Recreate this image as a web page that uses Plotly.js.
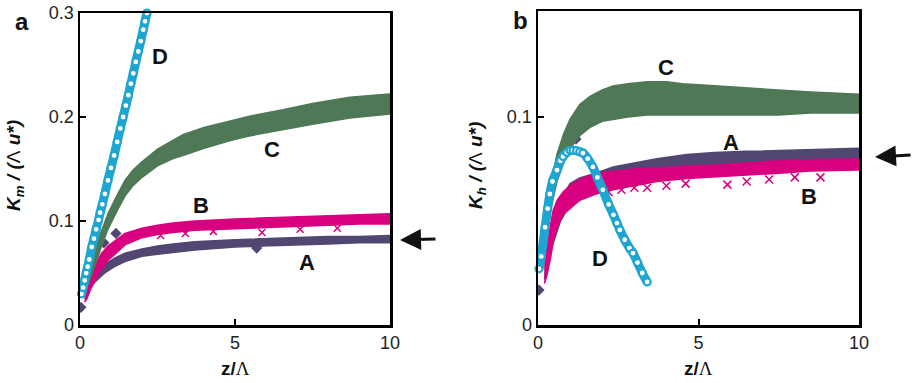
<!DOCTYPE html>
<html>
<head>
<meta charset="utf-8">
<script src="https://cdn.plot.ly/plotly-3.0.1.min.js"></script>
<style>html,body{margin:0;padding:0;background:#fff;}#chart{width:913px;height:383px;}</style>
</head>
<body>
<div id="chart"></div>
<script>
// ---------- Panel a (Km) ----------
var aCx = [0.1,0.2,0.35,0.5,0.7,0.9,1.2,1.45,1.71,2.0,2.5,3.0,3.32,4.0,4.94,5.5,6.55,7.5,8.7,10];
var aCup = [0.034,0.046,0.062,0.075,0.092,0.107,0.125,0.139,0.149,0.157,0.169,0.178,0.183,0.190,0.197,0.201,0.207,0.213,0.219,0.222];
var aClo = [0.026,0.034,0.046,0.058,0.076,0.092,0.110,0.124,0.134,0.142,0.153,0.160,0.163,0.170,0.178,0.182,0.188,0.193,0.199,0.203];

var aBx = [0.15,0.22,0.35,0.48,0.7,0.9,1.2,1.45,2.0,2.5,3.0,3.7,5.0,6.0,7.0,8.0,9.0,10];
var aBup = [0.030,0.038,0.050,0.058,0.069,0.076,0.083,0.088,0.093,0.096,0.098,0.100,0.102,0.103,0.104,0.105,0.106,0.107];
var aBlo = [0.022,0.025,0.035,0.043,0.054,0.062,0.070,0.077,0.084,0.087,0.089,0.091,0.093,0.094,0.095,0.096,0.097,0.097];
var aBoutX = [2.6,3.4,4.3,5.87,7.1,8.3];
var aBoutY = [0.086,0.088,0.090,0.089,0.092,0.093];

var aAx = [0.16,0.3,0.5,0.8,1.1,1.45,2.0,2.5,3.0,3.7,5.0,6.0,7.0,8.0,9.0,10];
var aAup = [0.032,0.042,0.050,0.058,0.064,0.069,0.073,0.076,0.078,0.080,0.082,0.083,0.084,0.085,0.085,0.086];
var aAlo = [0.025,0.034,0.042,0.050,0.056,0.061,0.066,0.068,0.070,0.072,0.075,0.076,0.077,0.078,0.079,0.079];
var aAoutX = [0.03,0.77,1.16,5.7];
var aAoutY = [0.017,0.079,0.088,0.074];

var aDx = [0.05,0.1,0.15,0.2,0.25,0.3,0.38,0.45,0.52,0.6,0.65,0.72,0.8,0.9,1.0,1.1,1.2,1.3,1.39,1.48,1.56,1.64,1.72,1.8,1.88,1.96,2.04,2.1,2.16];
var aDy = [0.030,0.036,0.043,0.050,0.056,0.063,0.075,0.083,0.092,0.101,0.108,0.116,0.126,0.139,0.151,0.163,0.176,0.189,0.200,0.211,0.221,0.232,0.242,0.253,0.263,0.273,0.284,0.292,0.300];

// ---------- Panel b (Kh) ----------
var bCx = [0.05,0.15,0.28,0.4,0.59,0.8,1.0,1.3,1.62,2.0,2.34,2.8,3.4,4.0,4.5,5.5,6.5,7.5,8.5,10];
var bCup = [0.034,0.045,0.058,0.068,0.082,0.092,0.099,0.106,0.110,0.113,0.115,0.116,0.117,0.117,0.116,0.115,0.114,0.113,0.112,0.111];
var bClo = [0.026,0.035,0.046,0.056,0.069,0.078,0.085,0.091,0.095,0.098,0.099,0.100,0.101,0.101,0.101,0.101,0.101,0.101,0.102,0.102];

var bBx = [0.2,0.28,0.4,0.47,0.6,0.78,1.0,1.3,1.8,2.34,3.0,3.7,4.64,5.5,6.5,7.5,8.5,10];
var bBup = [0.032,0.038,0.049,0.055,0.060,0.064,0.067,0.070,0.073,0.074,0.075,0.0755,0.0765,0.077,0.078,0.079,0.0795,0.080];
var bBlo = [0.020,0.024,0.033,0.040,0.047,0.053,0.056,0.060,0.063,0.065,0.067,0.069,0.0705,0.071,0.072,0.073,0.074,0.0745];
var bBoutX = [2.2,2.6,3.0,3.4,4.0,4.6,5.9,6.5,7.2,8.0,8.8];
var bBoutY = [0.064,0.065,0.066,0.066,0.067,0.068,0.0675,0.069,0.070,0.071,0.071];

var bAx = [0.2,0.4,0.7,1.0,1.3,1.8,2.34,3.0,3.7,4.64,5.5,6.5,7.5,8.5,10];
var bAup = [0.030,0.046,0.060,0.068,0.0707,0.073,0.076,0.078,0.080,0.082,0.083,0.0835,0.084,0.0845,0.085];
var bAlo = [0.022,0.036,0.050,0.058,0.062,0.065,0.067,0.069,0.071,0.072,0.073,0.074,0.075,0.076,0.077];
var bAoutX = [0.03,1.18];
var bAoutY = [0.0168,0.0894];

var bDx = [0.03,0.1,0.22,0.3,0.37,0.45,0.59,0.7,0.78,0.9,1.0,1.09,1.2,1.3,1.4,1.55,1.71,1.85,2.02,2.2,2.35,2.46,2.55,2.7,2.85,2.96,3.1,3.25,3.4];
var bDy = [0.027,0.033,0.047,0.056,0.063,0.069,0.0745,0.079,0.081,0.083,0.084,0.084,0.0838,0.0833,0.0827,0.080,0.076,0.071,0.065,0.058,0.053,0.049,0.0457,0.041,0.037,0.0346,0.030,0.025,0.0207];

var colA = '#524672', colB = '#d8007f', colC = '#4e7856', colD = '#1fa5d1';

function band(x, up, lo, col, xa, ya) {
  var xr = x.slice().reverse(), lr = lo.slice().reverse();
  return {x: x.concat(xr), y: up.concat(lr), xaxis: xa, yaxis: ya, mode: 'lines', fill: 'toself',
    fillcolor: col, line: {color: col, width: 1.5}, hoverinfo: 'skip', showlegend: false};
}
function pts(x, y, col, sym, sz, xa, ya) {
  return {x: x, y: y, xaxis: xa, yaxis: ya, mode: 'markers', showlegend: false,
    marker: {symbol: sym, size: sz, color: col, line: {color: col, width: 1.5}}};
}
function circ(x, y, xa, ya) {
  return [
    {x: x, y: y, xaxis: xa, yaxis: ya, mode: 'lines', line: {color: colD, width: 9, shape: 'spline'}, showlegend: false, cliponaxis: false},
    {x: x, y: y, xaxis: xa, yaxis: ya, mode: 'markers', showlegend: false, cliponaxis: false,
      marker: {symbol: 'circle', size: 7, color: '#ffffff', line: {color: colD, width: 2.2}}}
  ];
}

var data = [
  band(aAx, aAup, aAlo, colA, 'x', 'y'),
  pts(aAoutX, aAoutY, colA, 'diamond', 7, 'x', 'y'),
  band(aBx, aBup, aBlo, colB, 'x', 'y'),
  pts(aBoutX, aBoutY, colB, 'x-thin-open', 7, 'x', 'y'),
  band(aCx, aCup, aClo, colC, 'x', 'y')
].concat(circ(aDx, aDy, 'x', 'y')).concat([
  band(bAx, bAup, bAlo, colA, 'x2', 'y2'),
  pts(bAoutX, bAoutY, colA, 'diamond', 7, 'x2', 'y2'),
  band(bBx, bBup, bBlo, colB, 'x2', 'y2'),
  pts(bBoutX, bBoutY, colB, 'x-thin-open', 8, 'x2', 'y2'),
  band(bCx, bCup, bClo, colC, 'x2', 'y2')
]).concat(circ(bDx, bDy, 'x2', 'y2'));

var axBase = {showline: true, linecolor: '#000', linewidth: 2.5, mirror: true, ticks: 'inside', ticklen: 6,
  tickwidth: 2, tickcolor: '#000', showgrid: false, zeroline: false, fixedrange: true,
  tickfont: {family: 'Liberation Sans, Arial, sans-serif', size: 18, color: '#222'}};
function ax(o) { var r = {}; for (var k in axBase) r[k] = axBase[k]; for (var k2 in o) r[k2] = o[k2]; return r; }

var L = 913, H = 383;
function lab(t, px, py, sz, extra) {
  var a = {text: t, xref: 'paper', yref: 'paper', x: px / L, y: 1 - py / H, xanchor: 'center', yanchor: 'middle',
    showarrow: false, font: {family: 'Liberation Sans, Arial', size: sz, color: '#111'}};
  if (extra) for (var k in extra) a[k] = extra[k];
  return a;
}
var layout = {
  width: L, height: H, margin: {l: 0, r: 0, t: 0, b: 0}, paper_bgcolor: '#fff', plot_bgcolor: '#fff',
  showlegend: false,
  xaxis: ax({domain: [80/L, 390/L], range: [0, 10], tickvals: [0, 5, 10], anchor: 'y'}),
  yaxis: ax({domain: [1 - 325/H, 1 - 13/H], range: [0, 0.3], tickvals: [0, 0.1, 0.2, 0.3], ticktext: ['0', '0.1', '0.2', '0.3'], anchor: 'x'}),
  xaxis2: ax({domain: [538/L, 859/L], range: [0, 10], tickvals: [0, 5, 10], anchor: 'y2'}),
  yaxis2: ax({domain: [1 - 325/H, 1 - 11/H], range: [0, 0.151], tickvals: [0, 0.1], ticktext: ['0', '0.1'], anchor: 'x2'}),
  annotations: [
    lab('<b>a</b>', 22, 21, 24),
    lab('<b>b</b>', 520, 20, 24),
    lab('<b><i>K</i></b><b><i><sub>m</sub></i></b><b><i> / (</i></b>Λ<b><i> u*)</i></b>', 15, 166, 19, {textangle: -90}),
    lab('<b><i>K</i></b><b><i><sub>h</sub></i></b><b><i> / (</i></b>Λ<b><i> u*)</i></b>', 477, 166, 19, {textangle: -90}),
    lab('<b>z/</b><span style="font-family:Liberation Serif">Λ</span>', 235, 368, 19),
    lab('<b>z/</b><span style="font-family:Liberation Serif">Λ</span>', 698, 368, 19),
    lab('<b>D</b>', 160, 57, 22),
    lab('<b>C</b>', 272, 150, 22),
    lab('<b>B</b>', 201, 205, 22),
    lab('<b>A</b>', 307, 262, 22),
    lab('<b>C</b>', 666, 67, 22),
    lab('<b>A</b>', 731, 142, 22),
    lab('<b>B</b>', 809, 196, 22),
    lab('<b>D</b>', 600, 258, 22),
    {text: '', xref: 'paper', yref: 'paper', x: 400/L, y: 1 - 240/H, ax: 37, ay: -1, showarrow: true, arrowhead: 2, arrowsize: 1.4, arrowwidth: 3, arrowcolor: '#111', standoff: 0},
    {text: '', xref: 'paper', yref: 'paper', x: 875/L, y: 1 - 157/H, ax: 37, ay: -2, showarrow: true, arrowhead: 2, arrowsize: 1.4, arrowwidth: 3, arrowcolor: '#111', standoff: 0}
  ]
};

Plotly.newPlot('chart', data, layout, {displayModeBar: false, staticPlot: true});
</script>
</body>
</html>
